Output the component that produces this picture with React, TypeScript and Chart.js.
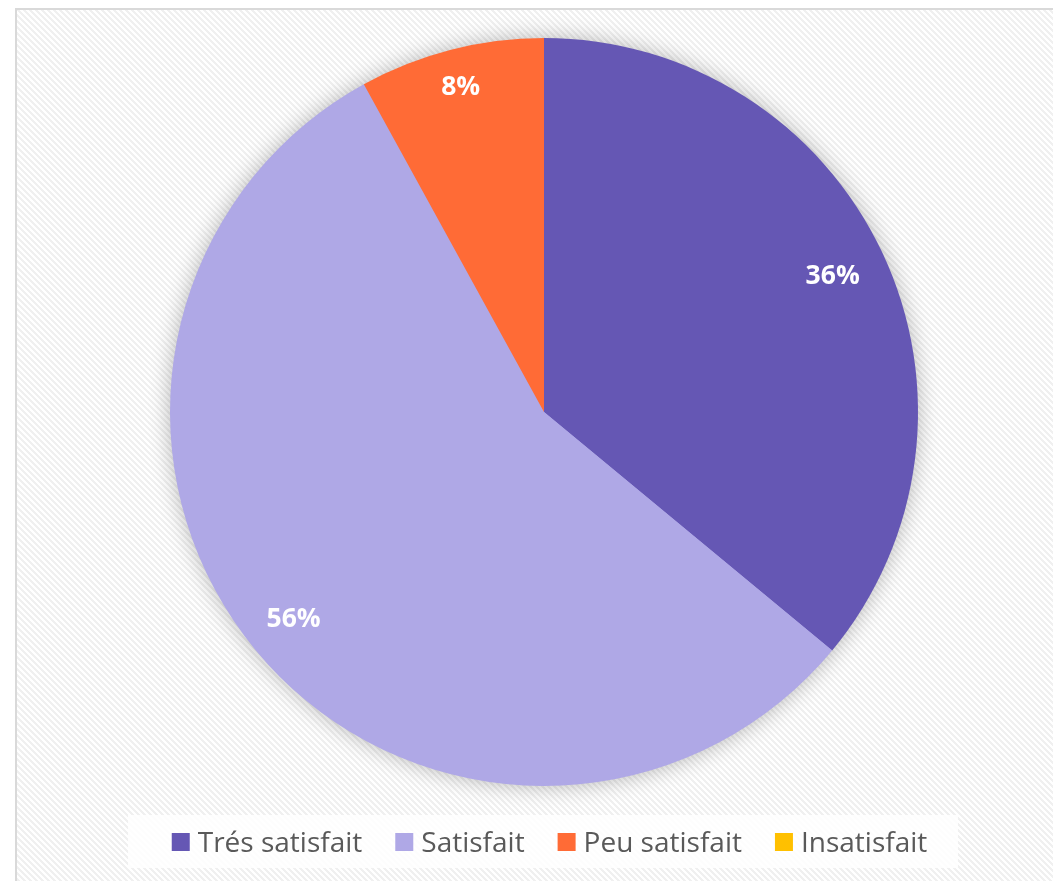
import React, { useEffect, useRef } from "react";
import { Chart, registerables } from "chart.js";

Chart.register(...registerables);

const categories = ["Trés satisfait", "Satisfait", "Peu satisfait", "Insatisfait"];
const values = [36, 56, 8, 0];
const colors = ["#6557B4", "#AFA8E6", "#FF6B36", "#FFC000"];

// label distance from centre, as a fraction of the radius (style)
const labelRadius = [0.853, 0.869, 0.896, 0.87];

const LABEL_FONT = "bold 26.5px 'Open Sans'";
const LEGEND_FONT = "28px 'Open Sans'";

function makePattern(ctx: CanvasRenderingContext2D) {
  const size = 6;
  const c = document.createElement("canvas");
  c.width = size;
  c.height = size;
  const g = c.getContext("2d")!;
  const img = g.createImageData(size, size);
  for (let y = 0; y < size; y++) {
    for (let x = 0; x < size; x++) {
      const i = (y * size + x) * 4;
      const on = ((x - y + size * 2) % size) < 3;
      const v = on ? 240 : 255;
      img.data[i] = v;
      img.data[i + 1] = v;
      img.data[i + 2] = v;
      img.data[i + 3] = 255;
    }
  }
  g.putImageData(img, 0, 0);
  return ctx.createPattern(c, "repeat")!;
}

const decorPlugin = {
  id: "decor",
  beforeDraw(chart: any) {
    const ctx = chart.ctx as CanvasRenderingContext2D;
    ctx.save();
    ctx.fillStyle = makePattern(ctx);
    ctx.fillRect(0, 0, chart.width, chart.height);
    ctx.restore();
  },
  beforeDatasetsDraw(chart: any) {
    const meta = chart.getDatasetMeta(0);
    const arc = meta.data[0];
    if (!arc) return;
    const ctx = chart.ctx as CanvasRenderingContext2D;
    ctx.save();
    ctx.shadowColor = "rgba(0,0,0,0.3)";
    ctx.shadowBlur = 22;
    ctx.fillStyle = "#AFA8E6";
    ctx.beginPath();
    ctx.arc(arc.x, arc.y, arc.outerRadius - 1, 0, Math.PI * 2);
    ctx.fill();
    ctx.restore();
  },
  afterDatasetsDraw(chart: any) {
    const meta = chart.getDatasetMeta(0);
    const ctx = chart.ctx as CanvasRenderingContext2D;
    const total = values.reduce((a, b) => a + b, 0);
    ctx.save();
    ctx.font = LABEL_FONT;
    ctx.fillStyle = "#ffffff";
    ctx.textAlign = "center";
    ctx.textBaseline = "middle";
    meta.data.forEach((arc: any, i: number) => {
      const v = values[i];
      if (!v) return;
      const mid = (arc.startAngle + arc.endAngle) / 2;
      const r = arc.outerRadius * labelRadius[i];
      const x = arc.x + Math.cos(mid) * r;
      const y = arc.y + Math.sin(mid) * r;
      ctx.fillText(Math.round((v / total) * 100) + "%", x, y);
    });
    ctx.restore();
  },
  afterDraw(chart: any) {
    const ctx = chart.ctx as CanvasRenderingContext2D;
    ctx.save();
    ctx.font = LEGEND_FONT;
    const box = 18;
    const gapBoxText = 8;
    const gapItems = 33;
    const widths = categories.map((c) => ctx.measureText(c).width);
    const total =
      widths.reduce((a, b) => a + b, 0) +
      categories.length * (box + gapBoxText) +
      (categories.length - 1) * gapItems;
    const cx = 532.5;
    let x = cx - total / 2;
    ctx.fillStyle = "rgba(255,255,255,0.85)";
    ctx.fillRect(111, 805, 830, 53);
    const boxTop = 823;
    const baseline = 842;
    categories.forEach((c, i) => {
      ctx.fillStyle = colors[i];
      ctx.fillRect(x, boxTop, box, box);
      x += box + gapBoxText;
      ctx.fillStyle = "#595959";
      ctx.textBaseline = "alphabetic";
      ctx.textAlign = "left";
      ctx.fillText(c, x, baseline);
      x += widths[i] + gapItems;
    });
    ctx.restore();
  },
};

export default function App() {
  const ref = useRef<HTMLCanvasElement>(null);
  useEffect(() => {
    if (!ref.current) return;
    const chart = new Chart(ref.current, {
      type: "pie",
      data: {
        labels: categories,
        datasets: [
          {
            data: values,
            backgroundColor: colors,
            borderWidth: 0,
          },
        ],
      },
      options: {
        animation: false,
        responsive: false,
        rotation: 0,
        layout: { padding: { left: 100, right: 82, top: 28, bottom: 95 } },
        plugins: {
          legend: { display: false },
          tooltip: { enabled: false },
        },
      },
      plugins: [decorPlugin],
    });
    return () => chart.destroy();
  }, []);
  return (
    <div
      style={{
        position: "fixed",
        left: 15,
        top: 8,
        width: 1038,
        height: 873,
        boxSizing: "border-box",
        borderLeft: "2px solid #d9d9d9",
        borderTop: "2px solid #d9d9d9",
        overflow: "hidden",
      }}
    >
      <canvas ref={ref} width={1036} height={871} style={{ display: "block" }} />
    </div>
  );
}
